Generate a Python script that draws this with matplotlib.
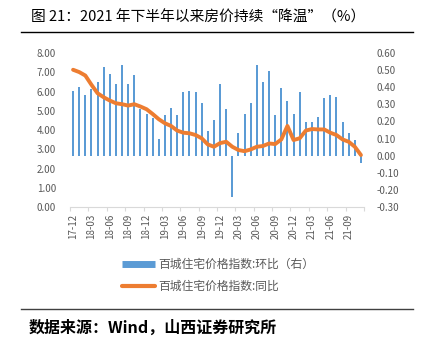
import numpy as np
import matplotlib
matplotlib.use("Agg")
import matplotlib.pyplot as plt
from matplotlib.lines import Line2D

plt.rcParams['font.family'] = ['Noto Sans CJK SC', 'DejaVu Sans']

# monthly data, 2017-12 .. 2021-11
months = ['17-12', '18-01', '18-02', '18-03', '18-04', '18-05', '18-06', '18-07',
          '18-08', '18-09', '18-10', '18-11', '18-12', '19-01', '19-02', '19-03',
          '19-04', '19-05', '19-06', '19-07', '19-08', '19-09', '19-10', '19-11',
          '19-12', '20-01', '20-02', '20-03', '20-04', '20-05', '20-06', '20-07',
          '20-08', '20-09', '20-10', '20-11', '20-12', '21-01', '21-02', '21-03',
          '21-04', '21-05', '21-06', '21-07', '21-08', '21-09', '21-10', '21-11']

# 百城住宅价格指数 环比 (right axis)
mom = [0.38, 0.40, 0.355, 0.39, 0.43, 0.52, 0.48, 0.42, 0.53, 0.42, 0.47, 0.27,
       0.245, 0.22, 0.095, 0.235, 0.28, 0.235, 0.37, 0.38, 0.37, 0.305, 0.145, 0.21,
       0.42, 0.27, -0.24, 0.135, 0.245, 0.305, 0.53, 0.43, 0.495, 0.235, 0.395, 0.32,
       0.245, 0.37, 0.195, 0.195, 0.225, 0.335, 0.355, 0.345, 0.195, 0.135, 0.09, -0.04]

# 百城住宅价格指数 同比 (left axis)
yoy = [7.13, 7.01, 6.83, 6.35, 5.91, 5.70, 5.53, 5.39, 5.34, 5.27, 5.34, 5.22,
       5.08, 4.83, 4.56, 4.35, 4.21, 3.97, 3.86, 3.83, 3.74, 3.57, 3.25, 3.13,
       3.32, 3.39, 3.13, 2.96, 2.90, 2.99, 3.13, 3.17, 3.30, 3.27, 3.51, 4.21,
       3.48, 3.57, 3.97, 4.05, 4.03, 4.03, 3.86, 3.74, 3.51, 3.39, 3.13, 2.70]

blue = '#5B9BD5'
orange = '#ED7D31'
gray = '#595959'

fig = plt.figure(figsize=(4.23, 3.42), dpi=100)
ax = fig.add_axes([0.1655, 0.3947, 0.695, 0.4503])
ax2 = ax.twinx()

x = np.arange(len(months))
ax2.bar(x, mom, width=0.32, color=blue, zorder=2)
ax.plot(x, yoy, color=orange, linewidth=2.8, solid_capstyle='round', zorder=3)

# line on top of the bars
ax.set_zorder(ax2.get_zorder() + 1)
ax.patch.set_visible(False)

ax.set_xlim(-0.5, len(months) - 0.5)
ax.set_ylim(0, 8)
ax.set_yticks(np.arange(0, 9, 1))
ax.set_yticklabels(['%.2f' % v for v in np.arange(0, 9, 1)])
ax2.set_ylim(-0.3, 0.6)
ax2.set_yticks(np.arange(-0.3, 0.61, 0.1))
ax2.set_yticklabels(['%.2f' % v for v in np.arange(-0.3, 0.61, 0.1)])

ax.set_xticks(x[::3])
ax.set_xticklabels(months[::3], rotation=90)
ax.set_xticks(np.arange(-0.5, len(months), 3), minor=True)

for a in (ax, ax2):
    for s in a.spines.values():
        s.set_visible(False)
    a.tick_params(axis='y', length=0, labelsize=7, labelcolor=gray)
ax.tick_params(axis='y', pad=10)
ax2.tick_params(axis='y', pad=9)
ax.tick_params(axis='x', which='major', length=0, labelsize=7, labelcolor=gray, pad=5)
ax.tick_params(axis='x', which='minor', length=3, color='#D9D9D9', width=0.8)
ax.spines['bottom'].set_visible(True)
ax.spines['bottom'].set_color('#D9D9D9')
ax.spines['bottom'].set_linewidth(0.8)

handles = [Line2D([], [], color=blue, linewidth=5, solid_capstyle='butt'),
           Line2D([], [], color=orange, linewidth=3, solid_capstyle='round')]
leg = fig.legend(handles, ['百城住宅价格指数:环比（右）', '百城住宅价格指数:同比'],
                 loc='center', bbox_to_anchor=(0.515, 0.195), frameon=False,
                 fontsize=8.5, handlelength=2.8, handletextpad=0.3, labelspacing=0.75)
for t in leg.get_texts():
    t.set_color(gray)

fig.text(0.073, 0.948, '图 21：2021 年下半年以来房价持续“降温”（%）',
         fontsize=10.6, va='center', ha='left', color='black')
fig.add_artist(Line2D([0.05, 0.976], [0.906, 0.906], color='black', linewidth=1))
fig.add_artist(Line2D([0.05, 0.976], [0.096, 0.096], color='#404040', linewidth=1))
fig.text(0.068, 0.042, '数据来源：Wind，山西证券研究所', fontsize=11.5,
         fontweight='bold', va='center', ha='left', color='black')

fig.savefig('out.png', dpi=100)
